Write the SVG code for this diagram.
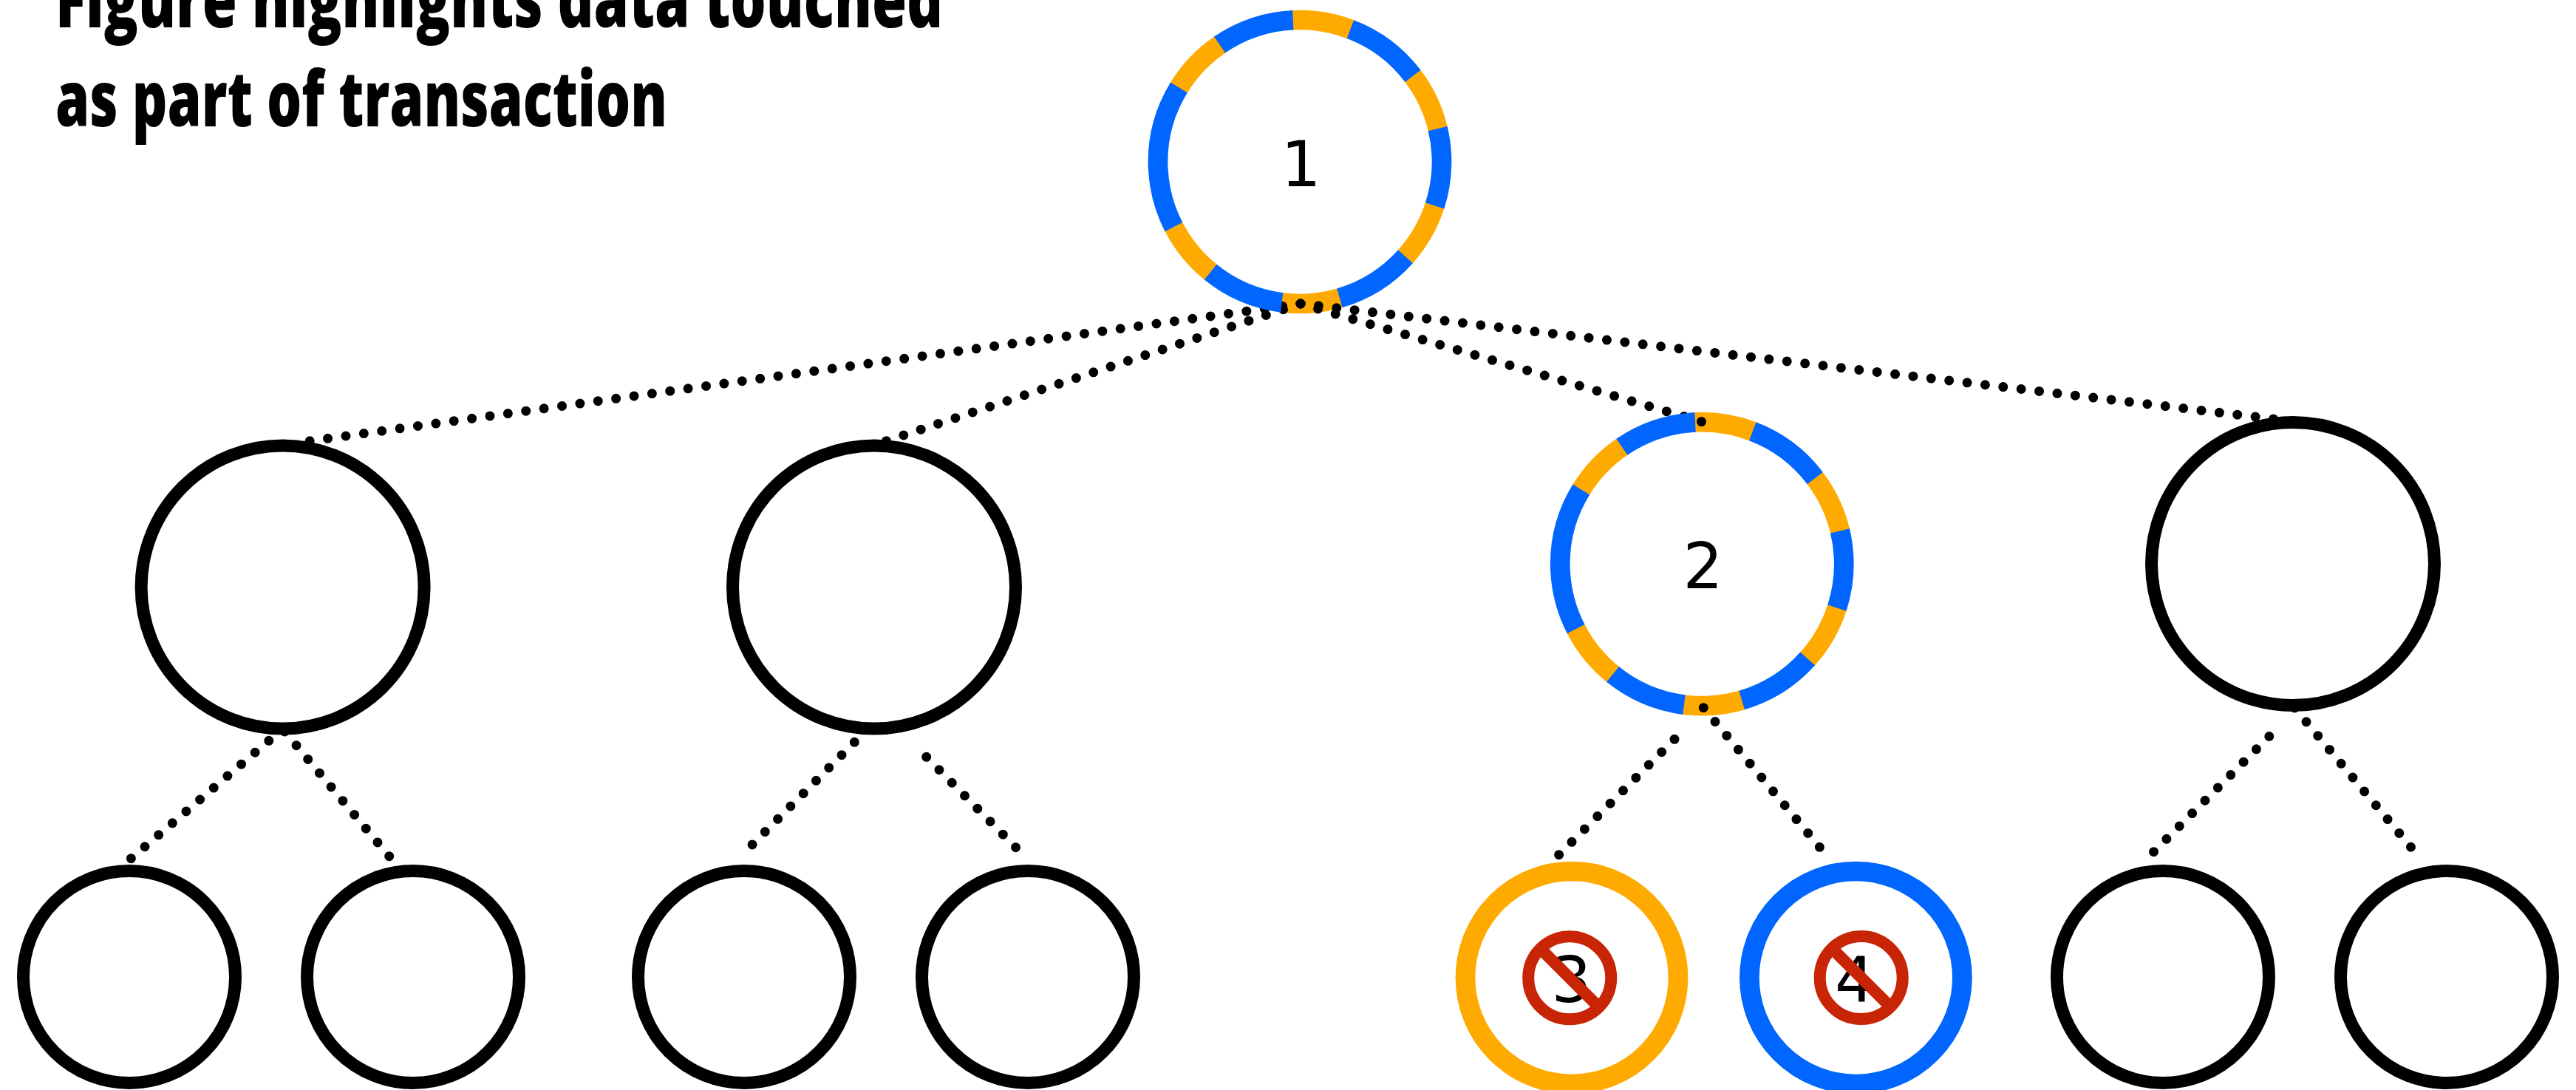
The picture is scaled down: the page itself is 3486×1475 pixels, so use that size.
<svg xmlns="http://www.w3.org/2000/svg" width="3486" height="1475" viewBox="0 0 3486 1475">
<style>
text{fill:#000}
.title{font-family:"Open Sans","Liberation Sans",sans-serif;font-weight:800;font-size:104px}
.num{font-family:"DejaVu Sans","Liberation Sans",sans-serif;font-size:85px;text-anchor:middle}
.dots line{fill:none;stroke:#000;stroke-width:13;stroke-linecap:round;stroke-dasharray:0 1}
.big{fill:#fff;stroke:#000;stroke-width:17}
.small{fill:#fff;stroke:#000;stroke-width:17}
.ring-o{fill:#fff;stroke:#FFAA00;stroke-width:26.7;stroke-dasharray:24.45 31.1 24.5 30.7 24.7 31 24.4 30.9 24.5 58.1 24.8 30.85}
.ring-b{fill:none;stroke:#0066FF;stroke-width:26.7;stroke-dasharray:0 23.65 31.9 23.7 31.5 23.9 31.8 23.6 31.7 23.7 58.9 24 31.65}
.solid-o{fill:#fff;stroke:#FFAA00;stroke-width:26.7}
.solid-b{fill:#fff;stroke:#0066FF;stroke-width:26.7}
.no circle{fill:none;stroke:#C72506;stroke-width:16}
.no line{stroke:#C72506;stroke-width:16}
</style>
<defs>
<g id="no" class="no"><circle r="56"/><line x1="-40" y1="-40" x2="40" y2="40"/></g>
</defs>
<rect width="3486" height="1475" fill="#fff"/>
<g id="title">
<text class="title" x="75" y="37.3" textLength="1201" lengthAdjust="spacingAndGlyphs">Figure highlights data touched</text>
<text class="title" x="75" y="170.7" textLength="828" lengthAdjust="spacingAndGlyphs">as part of transaction</text>
</g>
<g id="node-1">
<circle class="ring-o" pathLength="360" r="192" transform="translate(1759 219) rotate(-93.15)"/>
<text class="num" x="1760.5" y="252">1</text>
</g>
<g id="node-2">
<circle class="ring-o" pathLength="360" r="192" transform="translate(2303.3 763.2) rotate(-93.15)"/>
<text class="num" x="2304.5" y="795.7">2</text>
</g>
<g id="connectors" class="dots">
<line x1="1760" y1="411" x2="418.7" y2="596.8" pathLength="55.02"/>
<line x1="1760" y1="411" x2="1199" y2="596.8" pathLength="24.02"/>
<line x1="1760" y1="411" x2="2303" y2="570.7" pathLength="23.02"/>
<line x1="1760" y1="411" x2="3077" y2="567" pathLength="54.02"/>
<line x1="363.8" y1="1002.3" x2="177" y2="1162" pathLength="10.02"/>
<line x1="385.3" y1="989.9" x2="527" y2="1159" pathLength="9.02"/>
<line x1="1156.3" y1="1004.3" x2="1017.7" y2="1143.3" pathLength="8.02"/>
<line x1="1253.7" y1="1024.3" x2="1374.9" y2="1147" pathLength="7.02"/>
<line x1="2266" y1="1000.3" x2="2109.3" y2="1157" pathLength="9.02"/>
<line x1="2305.3" y1="957.7" x2="2462.7" y2="1146.7" pathLength="10.02"/>
<line x1="3070.8" y1="996.5" x2="2914.2" y2="1153" pathLength="9.02"/>
<line x1="3105.3" y1="958" x2="3262.8" y2="1146.6" pathLength="10.02"/>
</g>
<g id="node-1-blue"><circle class="ring-b" pathLength="360" r="192" transform="translate(1759 219) rotate(-92.75)"/></g>
<g id="node-2-blue"><circle class="ring-b" pathLength="360" r="192" transform="translate(2303.3 763.2) rotate(-92.75)"/></g>
<g id="node-a"><circle class="big" cx="382.6" cy="794.5" r="191.5"/></g>
<g id="node-b"><circle class="big" cx="1183" cy="794.5" r="191.5"/></g>
<g id="node-c"><circle class="big" cx="3103" cy="763" r="191.5"/></g>
<g id="leaf-1"><circle class="small" cx="175" cy="1322" r="143.5"/></g>
<g id="leaf-2"><circle class="small" cx="559" cy="1322" r="143.5"/></g>
<g id="leaf-3"><circle class="small" cx="1007" cy="1322" r="143.5"/></g>
<g id="leaf-4"><circle class="small" cx="1391" cy="1322" r="143.5"/></g>
<g id="node-3">
<circle class="solid-o" cx="2127" cy="1323" r="144"/>
<text class="num" x="2126.5" y="1356">3</text>
<use href="#no" x="2124.2" y="1323.3"/>
</g>
<g id="node-4">
<circle class="solid-b" cx="2511.4" cy="1323" r="144"/>
<text class="num" x="2510" y="1356">4</text>
<use href="#no" x="2518.7" y="1323"/>
</g>
<g id="leaf-7"><circle class="small" cx="2927" cy="1322" r="143.5"/></g>
<g id="leaf-8"><circle class="small" cx="3311" cy="1322" r="143.5"/></g>
</svg>
